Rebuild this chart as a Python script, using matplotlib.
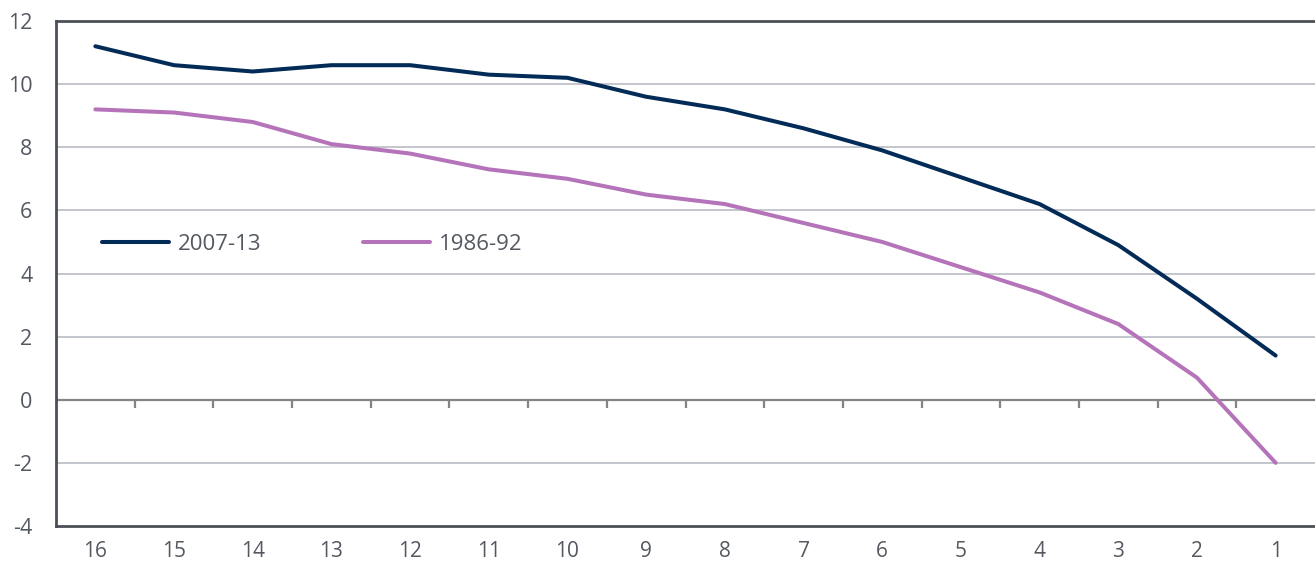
import matplotlib
matplotlib.use("Agg")
import matplotlib.pyplot as plt

plt.rcParams['font.family'] = ['Open Sans', 'DejaVu Sans']

categories = ["16", "15", "14", "13", "12", "11", "10", "9", "8", "7", "6", "5", "4", "3", "2", "1"]
series_2007_13 = [11.2, 10.6, 10.4, 10.6, 10.6, 10.3, 10.2, 9.6, 9.2, 8.6, 7.9, 7.05, 6.2, 4.9, 3.2, 1.4]
series_1986_92 = [9.2, 9.1, 8.8, 8.1, 7.8, 7.3, 7.0, 6.5, 6.2, 5.6, 5.0, 4.2, 3.4, 2.4, 0.7, -2.0]
y_ticks = [-4, -2, 0, 2, 4, 6, 8, 10, 12]

navy = "#032b57"
purple = "#b574b9"
text_col = "#545961"
grid_col = "#c3c6cc"
spine_col = "#4b4f57"

fig = plt.figure(figsize=(13.15, 5.62), dpi=100)
ax = fig.add_axes([56/1315, 1-526/562, 1-56/1315, (526-21)/562])

x = list(range(len(categories)))
ax.set_xlim(-0.5, len(categories) - 0.5)
ax.set_ylim(-4, 12)

for yv in y_ticks:
    if yv in (-4, 12, 0):
        continue
    ax.axhline(yv, color=grid_col, lw=1.4, zorder=1)
ax.axhline(0, color="#848484", lw=1.6, zorder=1)
ax.vlines([i + 0.5 for i in x[:-1]], -0.27, 0, color="#848484", lw=1.6, zorder=1)

ax.plot(x, series_2007_13, color=navy, lw=2.9, label="2007-13", zorder=3, solid_capstyle='round')
ax.plot(x, series_1986_92, color=purple, lw=2.9, label="1986-92", zorder=3, solid_capstyle='round')

ax.set_xticks(x)
ax.set_xticklabels(categories)
ax.set_yticks(y_ticks)
ax.set_yticklabels([str(v) for v in y_ticks])
ax.tick_params(axis='x', length=0, pad=11, labelsize=15, labelcolor=text_col)
ax.tick_params(axis='y', length=0, pad=17, labelsize=15.5, labelcolor=text_col)

for s in ("left", "bottom", "top"):
    ax.spines[s].set_color(spine_col)
    ax.spines[s].set_linewidth(2)
ax.spines["right"].set_visible(False)

leg = ax.legend(loc="center left", bbox_to_anchor=((102-56)/1259, (526-244)/505), ncol=2,
                frameon=False, fontsize=16, handlelength=3.0, handletextpad=0.4,
                columnspacing=4.6, borderpad=0, borderaxespad=0)
for t in leg.get_texts():
    t.set_color(text_col)

fig.savefig("out.png", dpi=100)
